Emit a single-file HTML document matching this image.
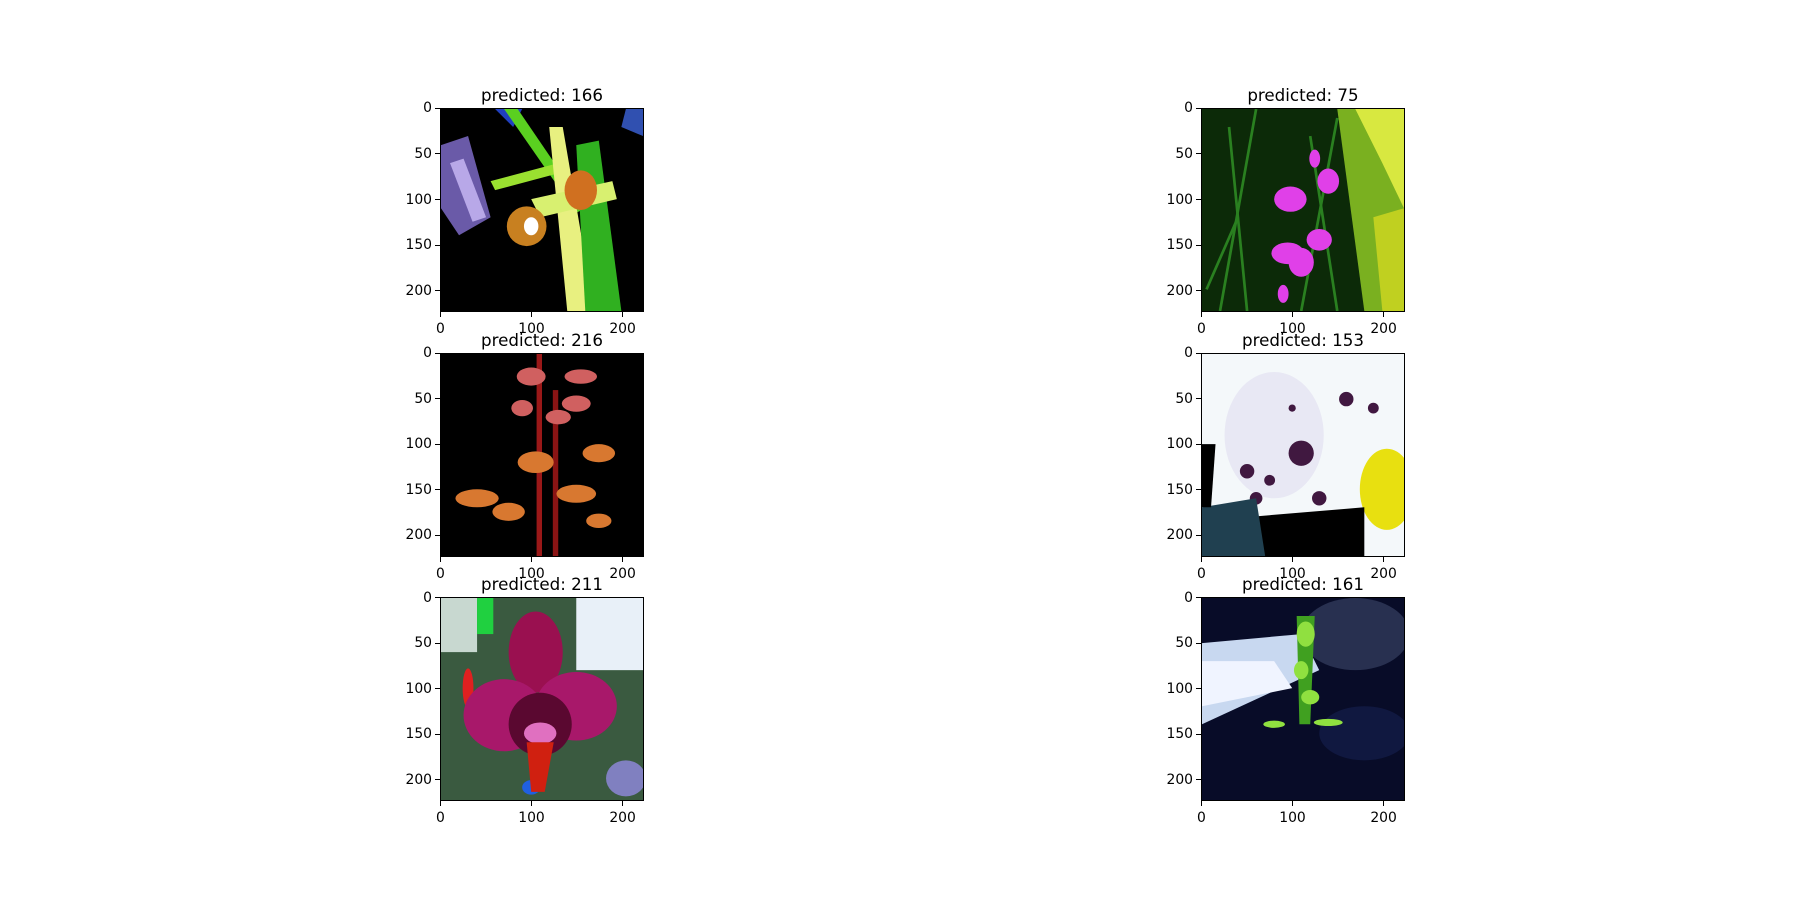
<!DOCTYPE html>
<html><head><meta charset="utf-8">
<style>
html,body{margin:0;padding:0;background:#fff;}
#fig{position:relative;width:1800px;height:900px;overflow:hidden;font-family:"DejaVu Sans","Liberation Sans",sans-serif;}
.ax{position:absolute;border:1px solid #000;box-sizing:border-box;overflow:hidden;}
.ax svg{display:block;width:100%;height:100%;}
.title{position:absolute;font-size:16.7px;color:#000;text-align:center;width:300px;white-space:nowrap;}
.tl{position:absolute;font-size:13.9px;color:#000;white-space:nowrap;}
.tk{position:absolute;background:#000;}
</style></head>
<body>
<div id="fig"></div>
<script>
const titles = ["predicted: 166","predicted: 75","predicted: 216","predicted: 153","predicted: 211","predicted: 161"];
const xTicks = [0,100,200];
const yTicks = [0,50,100,150,200];
const imgSize = 224;
const arts = [
`<rect width="224" height="224" fill="#000"/>
<polygon points="0,40 30,30 55,120 20,140 0,110" fill="#6a5aa8"/>
<polygon points="10,60 25,55 50,120 35,125" fill="#b8a8e8"/>
<polygon points="60,0 90,0 80,20" fill="#2040c0"/>
<polygon points="70,0 85,0 160,110 150,115" fill="#5ad020"/>
<polygon points="55,80 130,60 135,70 60,90" fill="#9ae030"/>
<polygon points="120,20 135,20 170,224 140,224" fill="#e8f080"/>
<polygon points="150,40 175,35 200,224 160,224" fill="#30b020"/>
<polygon points="100,100 190,80 195,100 110,120" fill="#d8f070"/>
<ellipse cx="95" cy="130" rx="22" ry="22" fill="#c88020"/>
<ellipse cx="155" cy="90" rx="18" ry="22" fill="#d07020"/>
<ellipse cx="100" cy="130" rx="8" ry="10" fill="#fff"/>
<polygon points="205,0 224,0 224,30 200,20" fill="#3050b0"/>`,
`<rect width="224" height="224" fill="#0c2a08"/>
<polygon points="150,0 224,0 224,224 180,224" fill="#7ab020"/>
<polygon points="170,0 224,0 224,110 200,60" fill="#d8e840"/>
<polygon points="190,120 224,110 224,224 200,224" fill="#c0d020"/>
<g stroke="#2a8020" stroke-width="3"><line x1="20" y1="224" x2="60" y2="0"/><line x1="50" y1="224" x2="30" y2="20"/><line x1="110" y1="224" x2="150" y2="10"/><line x1="150" y1="224" x2="120" y2="30"/><line x1="5" y1="200" x2="40" y2="120"/></g>
<g fill="#e040e8"><ellipse cx="98" cy="100" rx="18" ry="14"/><ellipse cx="140" cy="80" rx="12" ry="14"/><ellipse cx="125" cy="55" rx="6" ry="10"/><ellipse cx="95" cy="160" rx="18" ry="12"/><ellipse cx="110" cy="170" rx="14" ry="16"/><ellipse cx="130" cy="145" rx="14" ry="12"/><ellipse cx="90" cy="205" rx="6" ry="10"/></g>`,
`<rect width="224" height="224" fill="#000"/>
<rect x="106" y="0" width="6" height="224" fill="#9a1818"/>
<rect x="124" y="40" width="6" height="184" fill="#8a1414"/>
<g fill="#d06060"><ellipse cx="100" cy="25" rx="16" ry="10"/><ellipse cx="155" cy="25" rx="18" ry="8"/><ellipse cx="150" cy="55" rx="16" ry="9"/><ellipse cx="90" cy="60" rx="12" ry="9"/><ellipse cx="130" cy="70" rx="14" ry="8"/></g>
<g fill="#d87830"><ellipse cx="105" cy="120" rx="20" ry="12"/><ellipse cx="175" cy="110" rx="18" ry="10"/><ellipse cx="40" cy="160" rx="24" ry="10"/><ellipse cx="150" cy="155" rx="22" ry="10"/><ellipse cx="75" cy="175" rx="18" ry="10"/><ellipse cx="175" cy="185" rx="14" ry="8"/></g>`,
`<rect width="224" height="224" fill="#f4f8fa"/>
<ellipse cx="80" cy="90" rx="55" ry="70" fill="#e8e8f4"/>
<g fill="#401840"><circle cx="50" cy="130" r="8"/><circle cx="75" cy="140" r="6"/><circle cx="100" cy="60" r="4"/><circle cx="110" cy="110" r="14"/><circle cx="60" cy="160" r="7"/><circle cx="160" cy="50" r="8"/><circle cx="190" cy="60" r="6"/><circle cx="130" cy="160" r="8"/></g>
<ellipse cx="205" cy="150" rx="30" ry="45" fill="#e8e010"/>
<polygon points="60,180 180,170 180,224 60,224" fill="#000"/>
<polygon points="0,170 60,160 70,224 0,224" fill="#204050"/>
<polygon points="0,100 15,100 10,170 0,170" fill="#000"/>`,
`<rect width="224" height="224" fill="#3a5a40"/>
<rect x="150" y="0" width="74" height="80" fill="#e8f0f8"/>
<rect x="0" y="0" width="40" height="60" fill="#c8d8d0"/>
<rect x="40" y="0" width="18" height="40" fill="#20d040"/>
<ellipse cx="30" cy="100" rx="6" ry="22" fill="#e02020"/>
<ellipse cx="100" cy="210" rx="10" ry="8" fill="#2060e0"/>
<ellipse cx="205" cy="200" rx="22" ry="20" fill="#8080c0"/>
<ellipse cx="105" cy="60" rx="30" ry="45" fill="#9a1050"/>
<ellipse cx="70" cy="130" rx="45" ry="40" fill="#a8186a"/>
<ellipse cx="150" cy="120" rx="45" ry="38" fill="#a8186a"/>
<ellipse cx="110" cy="140" rx="35" ry="35" fill="#5a0830"/>
<ellipse cx="110" cy="150" rx="18" ry="12" fill="#e070c0"/>
<polygon points="95,160 125,160 115,215 100,215" fill="#d02010"/>`,
`<rect width="224" height="224" fill="#080c28"/>
<polygon points="0,50 110,40 130,80 0,140" fill="#c8d8f0"/>
<polygon points="0,70 80,70 100,100 0,120" fill="#f0f4ff"/>
<ellipse cx="170" cy="40" rx="60" ry="40" fill="#283050"/>
<ellipse cx="180" cy="150" rx="50" ry="30" fill="#101840"/>
<polygon points="105,20 125,20 120,140 108,140" fill="#40a020"/>
<g fill="#90e040"><ellipse cx="115" cy="40" rx="10" ry="14"/><ellipse cx="110" cy="80" rx="8" ry="10"/><ellipse cx="120" cy="110" rx="10" ry="8"/><ellipse cx="80" cy="140" rx="12" ry="4"/><ellipse cx="140" cy="138" rx="16" ry="4"/></g>`
];
const fig = document.getElementById('fig');
const size = 204;
const colX = [440, 1201];
const rowY = [108, 352.6, 597.2];
const scale = size / imgSize;
function px(v){ return (v + 0.5) * scale; }
titles.forEach((t, i) => {
  const x = colX[i % 2], y = rowY[Math.floor(i / 2)];
  const ax = document.createElement('div');
  ax.className = 'ax';
  
  
  ax.style.left = x + 'px'; ax.style.top = y + 'px';
  ax.style.width = size + 'px'; ax.style.height = size + 'px';
  ax.innerHTML = '<svg viewBox="0 0 224 224" preserveAspectRatio="none">' + arts[i] + '</svg>';
  fig.appendChild(ax);
  const ti = document.createElement('div');
  ti.className = 'title';
  
  
  ti.textContent = t;
  ti.style.left = (x + size / 2 - 150) + 'px';
  ti.style.top = (y - 23) + 'px';
  fig.appendChild(ti);
  xTicks.forEach(v => {
    const tx = x + px(v);
    const tk = document.createElement('div');
    tk.className = 'tk';
    
    
    tk.style.left = (tx - 0.5) + 'px'; tk.style.top = (y + size) + 'px';
    tk.style.width = '1px'; tk.style.height = '5px';
    fig.appendChild(tk);
    const lb = document.createElement('div');
    lb.className = 'tl';
    
    
    lb.textContent = v;
    lb.style.left = (tx - 30) + 'px'; lb.style.width = '60px'; lb.style.textAlign = 'center';
    lb.style.top = (y + size + 9) + 'px';
    fig.appendChild(lb);
  });
  yTicks.forEach(v => {
    const ty = y + px(v);
    const tk = document.createElement('div');
    tk.className = 'tk';
    
    
    tk.style.left = (x - 5) + 'px'; tk.style.top = (ty - 0.5) + 'px';
    tk.style.width = '5px'; tk.style.height = '1px';
    fig.appendChild(tk);
    const lb = document.createElement('div');
    lb.className = 'tl';
    
    
    lb.textContent = v;
    lb.style.left = (x - 70) + 'px'; lb.style.width = '62px'; lb.style.textAlign = 'right';
    lb.style.top = (ty - 8) + 'px';
    fig.appendChild(lb);
  });
});
</script>
</body></html>
